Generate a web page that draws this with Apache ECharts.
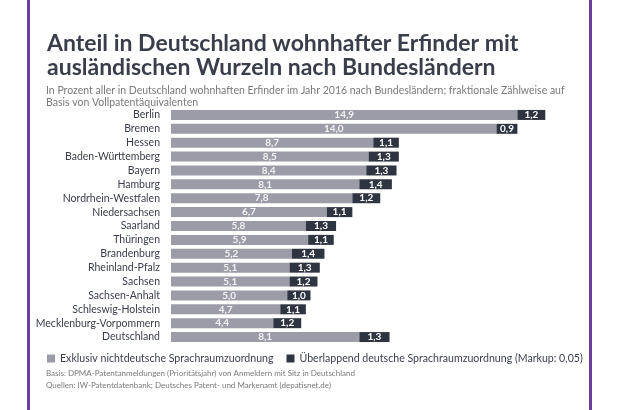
<!DOCTYPE html>
<html>
<head>
<meta charset="utf-8">
<script src="https://cdn.jsdelivr.net/npm/echarts@6/dist/echarts.min.js"></script>
<style>
html,body{margin:0;padding:0;background:#fff;}
#chart{width:620px;height:410px;}
</style>
</head>
<body>
<div id="chart"></div>
<script>
const categories = ["Berlin","Bremen","Hessen","Baden-Württemberg","Bayern","Hamburg","Nordrhein-Westfalen","Niedersachsen","Saarland","Thüringen","Brandenburg","Rheinland-Pfalz","Sachsen","Sachsen-Anhalt","Schleswig-Holstein","Mecklenburg-Vorpommern","Deutschland"];
const exklusiv = [14.9,14.0,8.7,8.5,8.4,8.1,7.8,6.7,5.8,5.9,5.2,5.1,5.1,5.0,4.7,4.4,8.1];
const ueberlappend = [1.2,0.9,1.1,1.3,1.3,1.4,1.2,1.1,1.3,1.1,1.4,1.3,1.2,1.0,1.1,1.2,1.3];
const seriesNames = ["Exklusiv nichtdeutsche Sprachraumzuordnung","Überlappend deutsche Sprachraumzuordnung (Markup: 0,05)"];

const FONT = "Lato, 'Open Sans', sans-serif";
const fmt = v => v.toFixed(1).replace('.', ',');

const chart = echarts.init(document.getElementById('chart'), null, {renderer:'canvas'});
chart.setOption({
  animation:false,
  backgroundColor:'#ffffff',
  textStyle:{fontFamily:FONT},
  title:[
    {text:'Anteil in Deutschland wohnhafter Erfinder mit\nausländischen Wurzeln nach Bundesländern', left:42, top:27,
     textStyle:{fontFamily:FONT, fontSize:23, fontWeight:'bold', color:'#3a3e4b', lineHeight:24}},
    {text:'In Prozent aller in Deutschland wohnhaften Erfinder im Jahr 2016 nach Bundesländern; fraktionale Zählweise auf\nBasis von Vollpatentäquivalenten', left:41, top:80,
     textStyle:{fontFamily:FONT, fontSize:10.5, fontWeight:'normal', color:'#7a7a7a', lineHeight:12}},
    {text:'Basis: DPMA-Patentanmeldungen (Prioritätsjahr) von Anmeldern mit Sitz in Deutschland\nQuellen: IW-Patentdatenbank; Deutsches Patent- und Markenamt (depatisnet.de)', left:41, top:362,
     textStyle:{fontFamily:FONT, fontSize:8, fontWeight:'normal', color:'#7a7a7a', lineHeight:12}}
  ],
  legend:{
    left:42, top:348, width:560, itemWidth:8, itemHeight:8, itemGap:13, icon:'rect',
    textStyle:{fontFamily:FONT, fontSize:10.6, color:'#3a3e4b'},
    data:seriesNames
  },
  grid:{left:171, top:108, width:17*23.25, height:236, containLabel:false},
  xAxis:{type:'value', min:0, max:17, show:false},
  yAxis:{type:'category', data:categories, inverse:true,
    axisLine:{show:false}, axisTick:{show:false}, splitLine:{show:false},
    axisLabel:{interval:0, fontFamily:FONT, fontSize:10.5, color:'#3a3e4b', margin:11}},
  series:[
    {name:seriesNames[0], type:'bar', stack:'a', data:exklusiv, barWidth:10,
     itemStyle:{color:'#9b9ca7'},
     label:{show:true, position:'inside', formatter:p=>fmt(p.value), color:'#f2f2f4', fontSize:10, fontWeight:'bold', fontFamily:FONT}},
    {name:seriesNames[1], type:'bar', stack:'a', data:ueberlappend, barWidth:10,
     itemStyle:{color:'#2f3441'},
     label:{show:true, position:'inside', formatter:p=>fmt(p.value), color:'#ffffff', fontSize:10, fontWeight:'bold', fontFamily:FONT}}
  ],
  graphic:[
    {type:'rect', shape:{x:27, y:0, width:3, height:410}, style:{fill:'#6c3fa0'}},
    {type:'rect', shape:{x:589, y:0, width:3, height:410}, style:{fill:'#6c3fa0'}}
  ]
});
</script>
</body>
</html>
